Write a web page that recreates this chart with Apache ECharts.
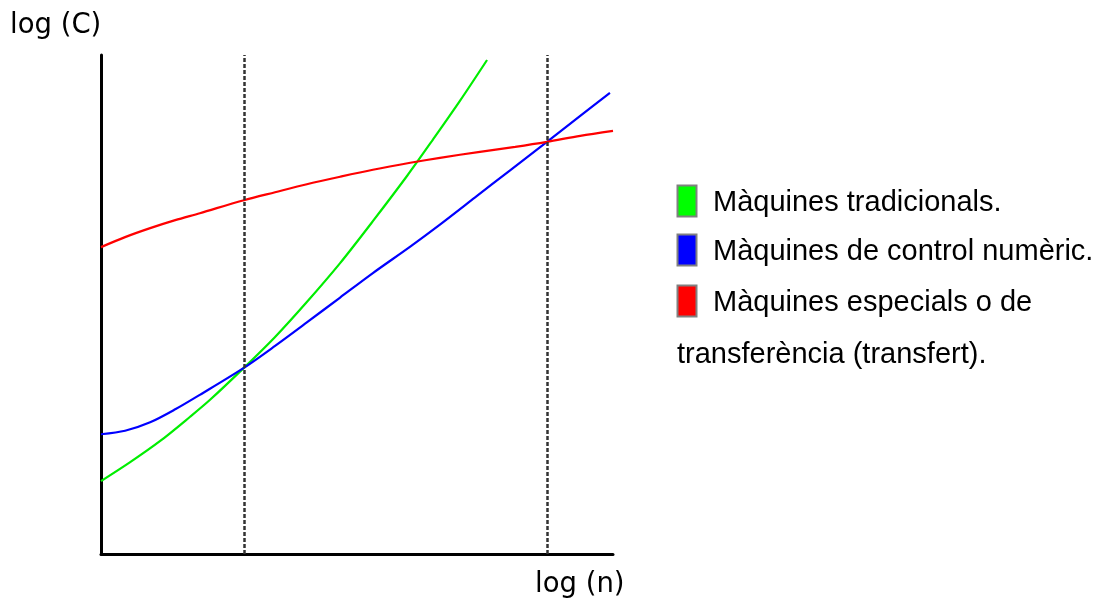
<!DOCTYPE html>
<html>
<head>
<meta charset="utf-8">
<script src="https://cdn.jsdelivr.net/npm/echarts@6/dist/echarts.min.js"></script>
<style>
html,body{margin:0;padding:0;background:#fff;}
#chart{width:1103px;height:598px;}
</style>
</head>
<body>
<div id="chart"></div>
<script>
// Data (abstract units: x = log(n), y = log(C), both 0..100)
const seriesNames = ['Màquines tradicionals.', 'Màquines de control numèric.', 'Màquines especials o de\ntransferència (transfert).'];
const seriesColors = ['#00ee00', '#0000ff', '#ff0000'];
const legendColors = ['#00ff00', '#0000ff', '#ff0000'];
const xAxisName = 'log (n)';
const yAxisName = 'log (C)';
const thresholds = [27.9, 87.1];

const greenData = [[0,14.6],[5.7,18.4],[11.5,22.6],[17.4,27.5],[21.3,30.9],[27.9,37.3],[34.0,43.5],[40.2,50.5],[46.7,58.3],[53.1,66.7],[59.8,75.8],[64.8,83.0],[70.1,90.8],[75.4,99.0]];
const blueData = [[0,24.0],[4.7,24.7],[9.6,26.4],[14.5,29.0],[19.3,31.9],[27.9,37.3],[34.0,41.7],[40.2,46.4],[46.7,51.4],[53.1,56.3],[60.4,61.6],[66.2,66.0],[73.0,71.4],[79.9,76.9],[87.1,82.6],[93.6,87.8],[99.4,92.4]];
const redData = [[0,61.5],[4.7,63.5],[9.6,65.3],[14.5,66.9],[19.3,68.3],[27.9,70.9],[34.0,72.5],[40.2,74.1],[46.7,75.6],[53.1,77.0],[60.4,78.4],[66.2,79.4],[74.0,80.6],[80.9,81.6],[87.1,82.6],[93.6,83.8],[100,84.8]];

const chart = echarts.init(document.getElementById('chart'), null, {renderer:'canvas'});

const legendFont = '"Liberation Sans", Arial, sans-serif';
const axisFont = '"DejaVu Sans", sans-serif';
const legendRows = [203, 252, 303];
const graphics = [
  {type:'text', left:10, top:12, style:{text:yAxisName, font:'27.5px ' + axisFont, fill:'#000'}},
  {type:'text', left:535, top:571, style:{text:xAxisName, font:'27.5px ' + axisFont, fill:'#000'}}
];
seriesNames.forEach((name, i) => {
  const yc = legendRows[i];
  graphics.push({type:'rect', shape:{x:677.5, y:yc-17.5, width:19, height:31}, style:{fill:legendColors[i], stroke:'#808080', lineWidth:2}});
  const lines = name.split('\n');
  graphics.push({type:'text', x:713, y:yc, style:{text:lines[0], font:'29px ' + legendFont, fill:'#000', textVerticalAlign:'middle', verticalAlign:'middle'}});
  if (lines[1]) {
    graphics.push({type:'text', x:677, y:yc+52, style:{text:lines[1], font:'29px ' + legendFont, fill:'#000', textVerticalAlign:'middle', verticalAlign:'middle'}});
  }
});

function lineSeries(name, data, color, extra) {
  return Object.assign({
    name: name, type:'line', data:data, smooth:0.3, symbol:'none',
    lineStyle:{color:color, width:2.2}, itemStyle:{color:color}, z:3
  }, extra || {});
}

chart.setOption({
  animation:false,
  backgroundColor:'#fff',
  grid:{left:101, right:490, top:55, bottom:44},
  xAxis:{type:'value', min:0, max:100, axisLine:{lineStyle:{color:'#000', width:3}}, axisTick:{show:false}, axisLabel:{show:false}, splitLine:{show:false}},
  yAxis:{type:'value', min:0, max:100, axisLine:{show:true, lineStyle:{color:'#000', width:3}}, axisTick:{show:false}, axisLabel:{show:false}, splitLine:{show:false}},
  series:[
    lineSeries(seriesNames[0], greenData, seriesColors[0], {
      markLine:{silent:true, symbol:'none', label:{show:false},
        emphasis:{disabled:true},
        lineStyle:{color:'#333', type:[4,2], width:2.5, opacity:1},
        data: thresholds.map(v => ({xAxis:v}))}
    }),
    lineSeries(seriesNames[1], blueData, seriesColors[1]),
    lineSeries(seriesNames[2], redData, seriesColors[2])
  ],
  graphic: graphics
});
</script>
</body>
</html>
